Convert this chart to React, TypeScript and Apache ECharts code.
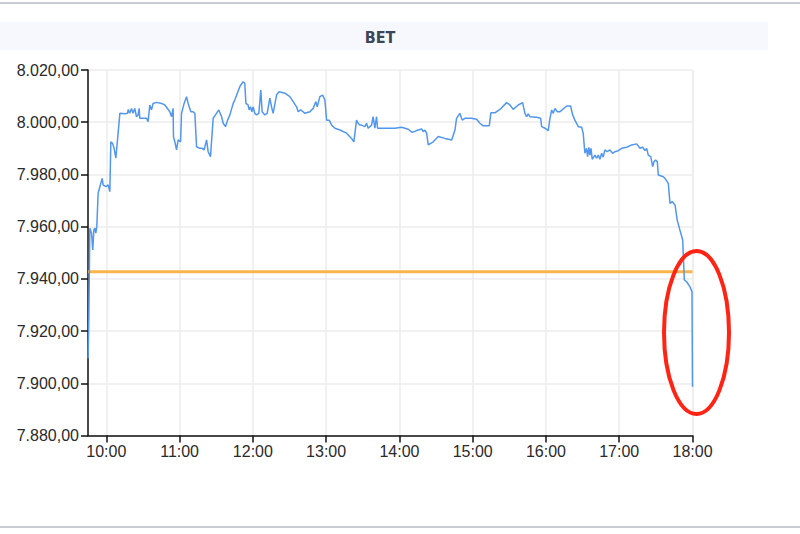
import React, { useEffect, useRef } from "react";
import * as echarts from "echarts";

// Session start (09:45) and intraday BET values
const sessionStartMinutes = 9 * 60 + 45;
const sessionEndMinutes = 18 * 60;
const title = "BET";

// minutes after 09:45
const minutesFromStart = [
  0.1, 0.7, 1.5, 2.9, 3.9, 4.8, 5.6, 6.4, 7.2, 8.3,
  9.7, 11.6, 12.4, 14.6, 16.5, 17.9, 18.7, 20.1, 21.4, 22.8,
  23.8, 26.1, 30.1, 32.4, 32.9, 34.2, 35.6, 36.9, 38.3, 39.7,
  41.0, 41.9, 42.4, 45.1, 47.9, 49.2, 50.6, 52.0, 53.3, 56.1,
  60.2, 62.9, 67.0, 68.4, 69.7, 70.0, 71.1, 72.5, 73.8, 75.8,
  76.6, 78.7, 80.7, 82.0, 84.2, 86.1, 87.5, 88.9, 91.6, 93.5,
  95.1, 97.1, 98.4, 100.3, 102.5, 104.4, 107.1, 109.4, 110.7, 112.6,
  114.3, 116.2, 118.9, 120.2, 124.3, 127.0, 128.4, 129.3, 131.1, 132.0,
  133.1, 134.2, 135.2, 136.6, 138.0, 139.9, 141.5, 142.6, 144.8, 146.7,
  148.9, 150.3, 151.6, 154.4, 156.5, 161.2, 165.3, 168.0, 170.8, 172.1,
  174.1, 176.2, 177.6, 181.7, 184.4, 186.6, 187.7, 189.9, 192.1, 194.0,
  195.4, 197.5, 199.5, 202.2, 206.3, 211.7, 215.8, 217.7, 219.9, 221.2,
  222.6, 224.0, 226.7, 228.1, 229.4, 230.8, 232.2, 233.5, 234.9, 236.3, 237.1,
  243.1, 251.3, 256.8, 262.2, 265.5, 269.1, 273.2, 274.5, 275.9, 277.3,
  278.6, 282.7, 286.8, 292.3, 297.8, 300.5, 301.8, 304.5, 306.4, 308.6,
  314.1, 318.2, 320.9, 323.6, 328.6, 329.9, 333.2, 337.3, 342.8, 345.5, 348.2, 352.3, 355.9,
  357.8, 359.2, 360.5, 361.9, 367.4, 370.7, 371.5, 374.2, 376.9, 378.3,
  379.7, 381.0, 382.4, 384.3, 386.5, 388.7, 392.0, 395.2, 396.9, 398.7,
  401.5, 404.2, 405.5, 406.9, 408.3, 409.1, 410.2, 411.0, 411.9, 412.9,
  415.1, 416.5, 417.8, 419.2, 420.6, 421.9, 423.3, 425.2, 427.4, 429.6,
  431.5, 434.2, 437.0, 441.1, 445.2, 449.3, 452.0, 454.2, 456.1, 457.5,
  458.8, 460.8, 462.4, 463.5, 464.8, 466.2, 467.0, 471.1, 472.5, 475.2,
  476.6, 478.4, 480.7, 482.5, 484.7, 487.0, 488.3, 490.2, 492.9, 494.6, 495.0,
];

const betValues = [
  7909.6, 7925.5, 7959.4, 7957.5, 7951.1, 7958.7, 7959.4, 7957.5, 7960.0, 7972.8,
  7975.3, 7978.5, 7976.0, 7975.3, 7976.0, 7973.4, 7992.5, 7991.9, 7990.0, 7986.2,
  7991.3, 8003.4, 8003.2, 8003.4, 8004.9, 8003.4, 8005.3, 8003.4, 8005.3, 8002.1,
  8002.8, 8005.3, 8001.5, 8001.5, 8001.5, 8000.2, 8006.6, 8004.7, 8007.2, 8007.6,
  8007.2, 8006.6, 8004.0, 8002.1, 8005.3, 7994.5, 7992.5, 7989.4, 7993.2, 7992.5,
  8003.4, 8007.2, 8009.8, 8007.2, 8004.0, 8004.0, 8003.4, 7990.6, 7990.0, 7990.0,
  7989.4, 7993.2, 7988.7, 7986.8, 8001.5, 8002.8, 8004.7, 8002.1, 7999.6, 7998.3,
  8000.8, 8002.8, 8007.2, 8008.5, 8013.6, 8015.5, 8014.9, 8007.2, 8006.6, 8004.7,
  8005.9, 8004.0, 8005.9, 8003.4, 8002.8, 8003.4, 8012.3, 8004.0, 8002.8, 8003.4,
  8009.2, 8005.9, 8003.4, 8010.4, 8011.7, 8011.1, 8009.8, 8007.9, 8005.9, 8004.0,
  8004.7, 8004.0, 8003.4, 8004.0, 8005.3, 8007.9, 8005.9, 8009.8, 8010.4, 8008.5,
  8000.8, 8000.8, 7998.9, 7997.7, 7997.0, 7995.8, 7993.8, 7992.5, 8000.8, 7999.6,
  7998.9, 7998.9, 7998.3, 7999.6, 7997.7, 7998.3, 7998.9, 8002.1, 7997.7, 8002.1, 7997.7,
  7997.7, 7997.7, 7998.1, 7997.3, 7996.1, 7996.8, 7997.4, 7996.4, 7997.0, 7995.8,
  7991.3, 7992.5, 7994.5, 7993.8, 7993.2, 7997.0, 8001.5, 8003.4, 8000.8, 8001.5,
  8001.5, 8001.1, 7999.6, 7998.6, 7998.6, 8003.6, 8003.6, 8004.9, 8007.5, 8006.6, 8004.9, 8006.6, 8007.5,
  8003.4, 8002.1, 8003.2, 8002.1, 8001.9, 8001.5, 7998.3, 7997.7, 7996.8, 8001.5,
  8004.7, 8003.4, 8005.3, 8004.0, 8004.0, 8004.9, 8006.2, 8006.2, 8002.8, 8000.8,
  7998.3, 7998.1, 7995.8, 7988.1, 7990.0, 7986.8, 7990.4, 7987.4, 7990.0, 7985.8,
  7987.4, 7986.2, 7987.4, 7985.8, 7988.1, 7986.6, 7989.4, 7988.7, 7989.4, 7988.1,
  7988.7, 7989.1, 7990.0, 7990.4, 7991.3, 7991.7, 7990.0, 7990.4, 7989.1, 7990.0,
  7987.4, 7986.8, 7983.0, 7984.9, 7985.5, 7984.9, 7979.8, 7979.1, 7978.5, 7976.6,
  7968.9, 7969.6, 7968.3, 7962.5, 7958.7, 7954.9, 7939.6, 7938.9, 7937.0, 7935.1, 7898.7,
];

const previousClose = 7942.7;

const yMin = 7880;
const yMax = 8020;
const yInterval = 20;

const BASE = new Date(2020, 0, 6, 0, 0, 0).getTime();
const toTs = (minutesOfDay: number) => BASE + minutesOfDay * 60000;

const formatRo = (v: number) => {
  const [intPart, dec] = v.toFixed(2).split(".");
  return intPart.replace(/\B(?=(\d{3})+(?!\d))/g, ".") + "," + dec;
};

export default function App() {
  const ref = useRef<HTMLDivElement>(null);

  useEffect(() => {
    if (!ref.current) return;
    const chart = echarts.init(ref.current, undefined, { renderer: "svg" });
    const n = Math.min(minutesFromStart.length, betValues.length);
    const lineData: [number, number][] = [];
    for (let i = 0; i < n; i++) {
      lineData.push([toTs(sessionStartMinutes + minutesFromStart[i]), betValues[i]]);
    }
    const refData: [number, number][] = [
      [toTs(sessionStartMinutes), previousClose],
      [toTs(sessionEndMinutes), previousClose],
    ];
    const labelFont = "'Liberation Sans', Arial, sans-serif";

    chart.setOption({
      animation: false,
      backgroundColor: "#ffffff",
      grid: { left: 88, right: 107.5, top: 70, bottom: 98.5 },
      graphic: [
        { type: "rect", shape: { x: 0, y: 2, width: 800, height: 2 }, style: { fill: "#c9ccd1" }, silent: true },
        { type: "rect", shape: { x: 0, y: 526, width: 800, height: 2 }, style: { fill: "#c9ccd1" }, silent: true },
        { type: "rect", shape: { x: 0, y: 22, width: 768, height: 28 }, style: { fill: "#f7f8fd" }, silent: true },
        {
          type: "text",
          x: 380,
          y: 37,
          style: {
            text: title,
            fill: "#3b4656",
            font: "bold 16px 'Liberation Sans Narrow', 'DejaVu Sans Condensed', sans-serif",
            textAlign: "center",
            textVerticalAlign: "middle",
          },
          silent: true,
        },
        {
          type: "ellipse",
          shape: { cx: 696.5, cy: 332.5, rx: 32.5, ry: 81.5 },
          style: { fill: "none", stroke: "#ff2414", lineWidth: 4 },
          silent: true,
          z: 100,
        },
      ],
      xAxis: {
        type: "time",
        min: toTs(sessionStartMinutes),
        max: toTs(sessionEndMinutes) + 1000,
        minInterval: 3600000,
        maxInterval: 3600000,
        axisLine: { show: true, lineStyle: { color: "#111", width: 1.5 } },
        axisTick: { show: true, length: 7, lineStyle: { color: "#111", width: 1.5 } },
        axisLabel: {
          formatter: "{HH}:{mm}",
          color: "#2a2a2a",
          fontSize: 16,
          fontFamily: labelFont,
          margin: 8,
          showMinLabel: false,
          showMaxLabel: true,
        },
        splitLine: { show: true, lineStyle: { color: "#ececec", width: 1.5 } },
      },
      yAxis: {
        type: "value",
        min: yMin,
        max: yMax,
        interval: yInterval,
        axisLine: { show: true, lineStyle: { color: "#111", width: 1.5 } },
        axisTick: { show: true, length: 7, lineStyle: { color: "#111", width: 1.5 } },
        axisLabel: {
          formatter: (v: number) => formatRo(v),
          color: "#2a2a2a",
          fontSize: 16,
          fontFamily: labelFont,
          margin: 9,
        },
        splitLine: { show: true, lineStyle: { color: "#ececec", width: 1.5 } },
      },
      series: [
        {
          type: "line",
          data: refData,
          showSymbol: false,
          lineStyle: { color: "#f9b44c", width: 3 },
          z: 2,
        },
        {
          type: "line",
          data: lineData,
          showSymbol: false,
          lineStyle: { color: "#5297ee", width: 1.5 },
          z: 3,
        },
      ],
    });

    return () => chart.dispose();
  }, []);

  return (
    <div
      ref={ref}
      style={{ position: "fixed", left: 0, top: 0, width: 800, height: 534 }}
    />
  );
}
